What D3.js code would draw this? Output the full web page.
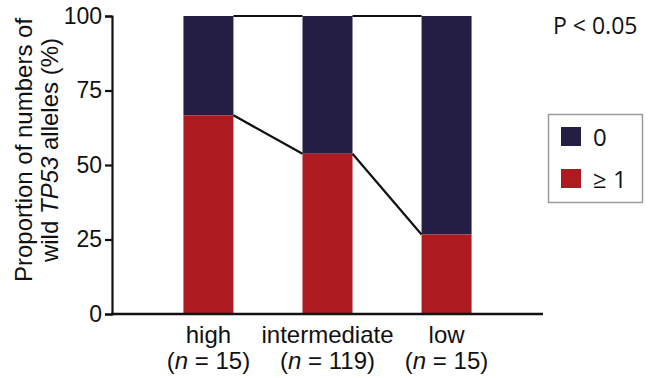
<!DOCTYPE html>
<html>
<head>
<meta charset="utf-8">
<script src="https://cdn.jsdelivr.net/npm/d3@7"></script>
<style>
  html, body { margin: 0; padding: 0; background: #fff; }
  svg { display: block; }
</style>
</head>
<body>
<div id="chart"></div>
<script>
// Groups and their sample sizes
const groups = ["high", "intermediate", "low"];
const groupN = [15, 119, 15];
// Number of cases with at least one wild TP53 allele, and with none
const countAtLeastOne = [10, 64, 4];
const countZero = [5, 55, 11];
const yTicks = [0, 25, 50, 75, 100];
const seriesLabels = ["0", "\u2265 1"];
const seriesColors = ["#241e45", "#ad1a1f"];
const pText = "P < 0.05";

const W = 654, H = 378;
const margin = { left: 112, right: 111, top: 16, bottom: 64 };

const svg = d3.select("#chart").append("svg")
  .attr("width", W).attr("height", H);

const x = d3.scaleBand()
  .domain(groups)
  .range([margin.left, W - margin.right])
  .paddingInner(0.58)
  .paddingOuter(0.6);

const y = d3.scaleLinear()
  .domain([0, 100])
  .range([H - margin.bottom, margin.top]);

// Percent of each group in each series
const rows = groups.map((g, i) => {
  const total = countAtLeastOne[i] + countZero[i];
  const redPct = countAtLeastOne[i] / total * 100;
  return { g, red: redPct, total: 100 };
});

// Stacked bars: red (>= 1) at the bottom, navy (0) on top
const bars = svg.append("g");
bars.selectAll("rect.zero").data(rows).join("rect")
  .attr("class", "zero")
  .attr("x", d => x(d.g))
  .attr("width", x.bandwidth())
  .attr("y", d => y(d.total))
  .attr("height", d => y(d.red) - y(d.total))
  .attr("fill", seriesColors[0]);
bars.selectAll("rect.one").data(rows).join("rect")
  .attr("class", "one")
  .attr("x", d => x(d.g))
  .attr("width", x.bandwidth())
  .attr("y", d => y(d.red))
  .attr("height", d => y(0) - y(d.red))
  .attr("fill", seriesColors[1]);

// Connecting lines between adjacent bars
const links = svg.append("g")
  .attr("stroke", "#111").attr("stroke-width", 2.2).attr("fill", "none");
for (let i = 0; i < rows.length - 1; i++) {
  const a = rows[i], b = rows[i + 1];
  const x0 = x(a.g) + x.bandwidth(), x1 = x(b.g);
  links.append("line")
    .attr("x1", x0).attr("y1", y(a.red)).attr("x2", x1).attr("y2", y(b.red));
  links.append("line")
    .attr("x1", x0).attr("y1", y(a.total)).attr("x2", x1).attr("y2", y(b.total));
}

// Y axis
const yAxis = svg.append("g")
  .attr("transform", `translate(${margin.left},0)`)
  .call(d3.axisLeft(y).tickValues(yTicks).tickSize(7).tickPadding(3));
yAxis.select(".domain").attr("stroke", "#111").attr("stroke-width", 2.2);
yAxis.selectAll(".tick line").attr("stroke", "#111").attr("stroke-width", 2.2);
yAxis.selectAll(".tick text")
  .attr("font-family", "'Liberation Sans', Arial, sans-serif")
  .attr("font-size", 23).attr("fill", "#111");

// X axis baseline
svg.append("line")
  .attr("x1", margin.left - 1).attr("x2", W - margin.right)
  .attr("y1", y(0)).attr("y2", y(0))
  .attr("stroke", "#111").attr("stroke-width", 2.4);

// Category labels
const xl = svg.append("g")
  .attr("font-family", "'Liberation Sans', Arial, sans-serif")
  .attr("font-size", 24).attr("fill", "#111").attr("text-anchor", "middle");
groups.forEach((g, i) => {
  const cx = x(g) + x.bandwidth() / 2;
  xl.append("text").attr("x", cx).attr("y", 343).text(g);
  const t = xl.append("text").attr("x", cx).attr("y", 369);
  t.append("tspan").text("(");
  t.append("tspan").attr("font-style", "italic").text("n");
  t.append("tspan").text(` = ${groupN[i]})`);
});

// Y axis title
const yt = svg.append("text")
  .attr("transform", `translate(0,150) rotate(-90)`)
  .attr("font-family", "'Liberation Sans', Arial, sans-serif")
  .attr("font-size", 24).attr("fill", "#111").attr("text-anchor", "middle");
yt.append("tspan").attr("x", 0).attr("y", 32).text("Proportion of numbers of");
const l2 = yt.append("tspan").attr("x", 0).attr("y", 58);
l2.text("wild ");
yt.append("tspan").attr("font-style", "italic").text("TP53");
yt.append("tspan").text(" alleles (%)");

// P value
svg.append("text")
  .attr("x", 553).attr("y", 34)
  .attr("font-family", "'Open Sans', sans-serif")
  .attr("font-size", 23).attr("fill", "#111")
  .text(pText);

// Legend
const lg = svg.append("g");
lg.append("rect")
  .attr("x", 548.5).attr("y", 114.5).attr("width", 94).attr("height", 88)
  .attr("fill", "#fff").attr("stroke", "#9a9a9a").attr("stroke-width", 1.5);
seriesLabels.forEach((lab, i) => {
  const yy = 127 + i * 42;
  lg.append("rect")
    .attr("x", 561).attr("y", yy).attr("width", 20).attr("height", 19)
    .attr("fill", seriesColors[i]);
  lg.append("text")
    .attr("x", 593).attr("y", yy + 19)
    .attr("font-family", "'Open Sans', sans-serif")
    .attr("font-size", 24).attr("fill", "#111")
    .text(lab);
});
</script>
</body>
</html>
